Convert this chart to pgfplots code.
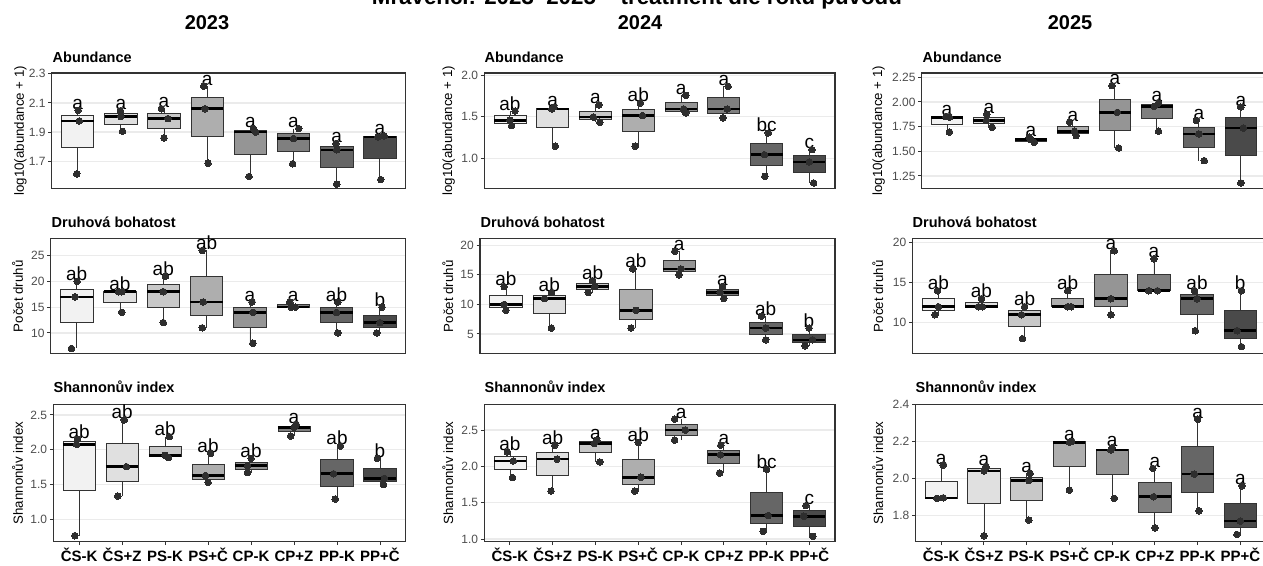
\documentclass[border=0pt]{standalone}
\usepackage{fontspec}
\setmainfont{Liberation Sans}
\usepackage{pgfplots}
\pgfplotsset{compat=1.18}
\usepgfplotslibrary{statistics}
\definecolor{f1}{HTML}{F2F2F2}
\definecolor{f2}{HTML}{E0E0E0}
\definecolor{f3}{HTML}{C8C8C8}
\definecolor{f4}{HTML}{AEAEAE}
\definecolor{f5}{HTML}{959595}
\definecolor{f6}{HTML}{7F7F7F}
\definecolor{f7}{HTML}{666666}
\definecolor{f8}{HTML}{4A4A4A}
\definecolor{gridc}{HTML}{EBEBEB}
\definecolor{tickc}{HTML}{4D4D4D}
\definecolor{brd}{HTML}{333333}
\definecolor{ptc}{HTML}{2E2E2E}
\newcommand\fs[1]{\fontsize{#1}{#1}\selectfont}
\tikzset{lab/.style={anchor=base, inner sep=0pt, font=\fs{19}, yshift=1pt},
  ptitle/.style={anchor=base west, inner sep=0pt, font=\bfseries\fs{14.5}},
  ytit/.style={rotate=90, anchor=base, inner sep=0pt, font=\fs{13.3}}}
\pgfplotsset{
  pan/.style={scale only axis, xmin=0.4, xmax=8.6, clip=false, anchor=south west,
    boxplot/draw direction=y,
    axis line style={draw=brd, line width=1.1pt},
    ymajorgrids, major grid style={draw=gridc, line width=1.3pt},
    tick align=outside, major tick length=3.5pt,
    tick style={draw=brd, line width=1pt},
    xtick pos=bottom, ytick pos=left,
    yticklabel style={font=\fs{12}, text=tickc, anchor=east, inner sep=0pt, xshift=-2.5pt},
    /pgf/number format/assume math mode=true},
  rowtop/.style={xtick=\empty},
  rowbot/.style={xtick={1,...,8}, xticklabels={ČS-K,ČS+Z,PS-K,PS+Č,CP-K,CP+Z,PP-K,PP+Č},
    xticklabel style={font=\bfseries\fs{15}, anchor=base, inner sep=0pt, yshift=-16pt}},
  dec1/.style={/pgf/number format/.cd, fixed, fixed zerofill, precision=1},
  dec2/.style={/pgf/number format/.cd, fixed, fixed zerofill, precision=2},
  bxs/.style={draw=brd, line width=0.8pt, boxplot/draw direction=y, boxplot/box extend=0.75, boxplot/whisker extend=0,
    boxplot/every median/.style={draw=black, line width=2.6pt}},
  pts/.style={only marks, mark=*, mark size=3.3pt, mark options={draw=ptc, fill=ptc, line width=0pt}}
}
\newcommand\bx[5]{%
  \pgfmathsetmacro\qa{(#2+#3)/2}%
  \pgfmathsetmacro\qb{(#3+#4)/2}%
  \edef\tmp{\noexpand\addplot[bxs,fill=#5,boxplot prepared={draw position=#1,lower whisker=#2,lower quartile=\qa,median=#3,upper quartile=\qb,upper whisker=#4}] coordinates {};}%
  \tmp}
\newcommand\lb[3]{\node[lab] at (axis cs:#1,#2) {#3};}
\begin{document}
\begin{tikzpicture}[x=1pt,y=1pt]
\useasboundingbox (0,0) rectangle (1263,565);
% ---------- titles ----------
\node[anchor=base, inner sep=0pt, font=\bfseries\fs{22.3}] at (637,560) {Mravenci: 2023–2025 – treatment dle roku původu};
\node[anchor=base, inner sep=0pt, font=\bfseries\fs{20}] at (207,535) {2023};
\node[anchor=base, inner sep=0pt, font=\bfseries\fs{20}] at (640,535) {2024};
\node[anchor=base, inner sep=0pt, font=\bfseries\fs{20}] at (1070,535) {2025};
% panel titles
\node[ptitle] at (52.5,502.3) {Abundance};
\node[ptitle] at (51.5,337.7) {Druhová bohatost};
\node[ptitle] at (53.5,172.3) {Shannonův index};
\node[ptitle] at (484.5,502.3) {Abundance};
\node[ptitle] at (480.5,337.7) {Druhová bohatost};
\node[ptitle] at (484.5,172.3) {Shannonův index};
\node[ptitle] at (922.5,502.3) {Abundance};
\node[ptitle] at (912.5,337.7) {Druhová bohatost};
\node[ptitle] at (915.5,172.3) {Shannonův index};
% y titles
\node[ytit] at (24,434.2) {log10(abundance + 1)};
\node[ytit] at (23,268.7) {Počet druhů};
\node[ytit] at (23,92) {Shannonův index};
\node[ytit] at (452,434.2) {log10(abundance + 1)};
\node[ytit] at (453,268.7) {Počet druhů};
\node[ytit] at (453,92) {Shannonův index};
\node[ytit] at (882,434.2) {log10(abundance + 1)};
\node[ytit] at (883,268.7) {Počet druhů};
\node[ytit] at (883,92) {Shannonův index};

% ================= 2023 Abundance =================
\begin{axis}[pan, rowtop, at={(51.7pt,376.4pt)}, width=354.1pt, height=115.6pt,
  ymin=1.512, ymax=2.305, ytick={1.7,1.9,2.1,2.3}, yticklabel style={dec1}]
\bx{1}{1.613}{1.976}{2.049}{f1}
\bx{2}{1.905}{2.006}{2.046}{f2}
\bx{3}{1.859}{1.992}{2.060}{f3}
\bx{4}{1.686}{2.060}{2.215}{f4}
\bx{5}{1.595}{1.900}{1.924}{f5}
\bx{6}{1.682}{1.855}{1.924}{f6}
\bx{7}{1.543}{1.778}{1.820}{f7}
\bx{8}{1.574}{1.866}{1.874}{f8}
\addplot[pts] coordinates {(0.98,1.613)(1.04,1.976)(1.01,2.049)(2.04,1.905)(2.0,2.006)(1.99,2.046)
 (3.0,1.859)(3.09,1.992)(2.94,2.060)(4.02,1.686)(3.95,2.060)(3.92,2.215)(4.97,1.595)(5.12,1.900)(5.07,1.924)
 (5.98,1.682)(6.0,1.855)(6.12,1.924)(7.0,1.543)(7.0,1.778)(6.98,1.820)(8.02,1.574)(7.96,1.866)(8.10,1.874)};
\lb{1}{2.049}{a}\lb{2}{2.046}{a}\lb{3}{2.060}{a}\lb{4}{2.215}{a}
\lb{5}{1.924}{a}\lb{6}{1.924}{a}\lb{7}{1.820}{a}\lb{8}{1.874}{a}
\end{axis}

% ================= 2024 Abundance =================
\begin{axis}[pan, rowtop, at={(484.3pt,376.4pt)}, width=350.7pt, height=115.6pt,
  ymin=0.635, ymax=2.028, ytick={1.0,1.5,2.0}, yticklabel style={dec1}]
\bx{1}{1.394}{1.458}{1.570}{f1}
\bx{2}{1.145}{1.594}{1.618}{f2}
\bx{3}{1.434}{1.498}{1.643}{f3}
\bx{4}{1.145}{1.514}{1.667}{f4}
\bx{5}{1.546}{1.594}{1.759}{f5}
\bx{6}{1.486}{1.594}{1.867}{f6}
\bx{7}{0.783}{1.044}{1.305}{f7}
\bx{8}{0.703}{0.956}{1.104}{f8}
\addplot[pts] coordinates {(1.04,1.394)(1.0,1.458)(1.12,1.570)(2.06,1.145)(1.98,1.594)(2.03,1.618)
 (3.1,1.434)(2.95,1.498)(3.08,1.643)(3.93,1.145)(4.1,1.514)(4.05,1.667)(5.11,1.546)(5.06,1.594)(5.11,1.759)
 (5.98,1.486)(6.08,1.594)(6.1,1.867)(6.96,0.783)(6.95,1.044)(7.04,1.305)(8.1,0.703)(8.0,0.956)(8.06,1.104)};
\lb{1}{1.570}{ab}\lb{2}{1.618}{a}\lb{3}{1.643}{a}\lb{4}{1.667}{ab}
\lb{5}{1.759}{a}\lb{6}{1.867}{a}\lb{7}{1.305}{bc}\lb{8}{1.104}{c}
\end{axis}

% ================= 2025 Abundance =================
\begin{axis}[pan, rowtop, at={(921.7pt,376.4pt)}, width=344.3pt, height=115.6pt,
  ymin=1.122, ymax=2.294, ytick={1.25,1.5,1.75,2.0,2.25}, yticklabel style={dec2}]
\bx{1}{1.696}{1.845}{1.851}{f1}
\bx{2}{1.743}{1.814}{1.878}{f2}
\bx{3}{1.591}{1.618}{1.645}{f3}
\bx{4}{1.659}{1.703}{1.797}{f4}
\bx{5}{1.534}{1.895}{2.166}{f5}
\bx{6}{1.703}{1.956}{1.990}{f6}
\bx{7}{1.405}{1.676}{1.814}{f7}
\bx{8}{1.179}{1.736}{1.949}{f8}
\addplot[pts] coordinates {(1.06,1.696)(1.06,1.845)(0.98,1.851)(2.08,1.743)(1.94,1.814)(1.95,1.878)
 (3.08,1.591)(3.0,1.618)(2.96,1.645)(4.08,1.659)(4.04,1.703)(3.92,1.797)(5.09,1.534)(5.06,1.895)(4.93,2.166)
 (6.04,1.703)(5.94,1.956)(6.04,1.990)(7.13,1.405)(7.0,1.676)(6.94,1.814)(8.0,1.179)(8.06,1.736)(8.0,1.949)};
\lb{1}{1.851}{a}\lb{2}{1.878}{a}\lb{3}{1.645}{a}\lb{4}{1.797}{a}
\lb{5}{2.166}{a}\lb{6}{1.990}{a}\lb{7}{1.814}{a}\lb{8}{1.949}{a}
\end{axis}

% ================= 2023 Druhova bohatost =================
\begin{axis}[pan, rowtop, at={(50.7pt,211.2pt)}, width=355.1pt, height=115pt,
  ymin=5.96, ymax=28.26, ytick={10,15,20,25}]
\bx{1}{7}{17}{20}{f1}
\bx{2}{14}{18}{18}{f2}
\bx{3}{12}{18}{21}{f3}
\bx{4}{11}{16}{26}{f4}
\bx{5}{8}{14}{16}{f5}
\bx{6}{15}{15}{16}{f6}
\bx{7}{10}{14}{16}{f7}
\bx{8}{10}{12}{15}{f8}
\addplot[pts] coordinates {(0.88,7)(0.96,17)(1.01,20)(2.04,14)(2.04,18)(1.97,18)
 (3.0,12)(3.0,18)(3.05,21)(3.9,11)(3.92,16)(3.9,26)(5.07,8)(5.07,14)(5.05,16)
 (6.05,15)(5.95,15)(5.92,16)(7.03,10)(7.0,14)(7.03,16)(7.93,10)(8.0,12)(8.05,15)};
\lb{1}{20}{ab}\lb{2}{18}{ab}\lb{3}{21}{ab}\lb{4}{26}{ab}
\lb{5}{16}{a}\lb{6}{16}{a}\lb{7}{16}{ab}\lb{8}{15}{b}
\end{axis}

% ================= 2024 Druhova bohatost =================
\begin{axis}[pan, rowtop, at={(480pt,211.2pt)}, width=355pt, height=115pt,
  ymin=1.64, ymax=21.1, ytick={5,10,15,20}]
\bx{1}{9}{10}{13}{f1}
\bx{2}{6}{11}{12}{f2}
\bx{3}{12}{13}{14}{f3}
\bx{4}{6}{9}{16}{f4}
\bx{5}{15}{16}{19}{f5}
\bx{6}{11}{12}{13}{f6}
\bx{7}{4}{6}{8}{f7}
\bx{8}{3}{4}{6}{f8}
\addplot[pts] coordinates {(1.0,9)(0.96,10)(0.96,13)(2.05,6)(1.89,11)(2.05,12)
 (2.9,12)(3.05,13)(3.0,14)(3.89,6)(4.0,9)(3.93,16)(5.0,15)(5.04,16)(4.9,19)
 (6.03,11)(5.95,12)(6.0,13)(7.0,4)(7.0,6)(6.9,8)(7.91,3)(8.08,4)(8.0,6)};
\lb{1}{13}{ab}\lb{2}{12}{ab}\lb{3}{14}{ab}\lb{4}{16}{ab}
\lb{5}{19}{a}\lb{6}{13}{a}\lb{7}{8}{ab}\lb{8}{6}{b}
\end{axis}

% ================= 2025 Druhova bohatost =================
\begin{axis}[pan, rowtop, at={(912.5pt,211.2pt)}, width=353.5pt, height=115pt,
  ymin=6.11, ymax=20.5, ytick={10,15,20}]
\bx{1}{11}{12}{14}{f1}
\bx{2}{12}{12}{13}{f2}
\bx{3}{8}{11}{12}{f3}
\bx{4}{12}{12}{14}{f4}
\bx{5}{11}{13}{19}{f5}
\bx{6}{14}{14}{18}{f6}
\bx{7}{9}{13}{14}{f7}
\bx{8}{7}{9}{14}{f8}
\addplot[pts] coordinates {(0.92,11)(1.0,12)(0.98,14)(1.93,12)(2.02,12)(2.0,13)
 (2.95,8)(2.93,11)(3.0,12)(4.08,12)(4.0,12)(4.0,14)(5.0,11)(5.0,13)(5.08,19)
 (5.88,14)(6.08,14)(6.0,18)(6.96,9)(7.0,13)(6.94,14)(8.03,7)(7.93,9)(8.03,14)};
\lb{1}{14}{ab}\lb{2}{13}{ab}\lb{3}{12}{ab}\lb{4}{14}{ab}
\lb{5}{19}{a}\lb{6}{18}{a}\lb{7}{14}{ab}\lb{8}{14}{b}
\end{axis}

% ================= 2023 Shannon =================
\begin{axis}[pan, rowbot, at={(53.3pt,23.3pt)}, width=352.5pt, height=137.4pt,
  ymin=0.679, ymax=2.653, ytick={1.0,1.5,2.0,2.5}, yticklabel style={dec1}]
\bx{1}{0.765}{2.078}{2.154}{f1}
\bx{2}{1.335}{1.757}{2.428}{f2}
\bx{3}{1.891}{1.920}{2.188}{f3}
\bx{4}{1.532}{1.630}{1.949}{f4}
\bx{5}{1.671}{1.771}{1.877}{f5}
\bx{6}{2.198}{2.322}{2.362}{f6}
\bx{7}{1.292}{1.655}{2.054}{f7}
\bx{8}{1.503}{1.589}{1.877}{f8}
\addplot[pts] coordinates {(0.9,0.765)(0.94,2.078)(0.96,2.154)(1.9,1.335)(2.1,1.757)(2.05,2.428)
 (3.08,1.891)(3.0,1.920)(3.1,2.188)(4.0,1.532)(3.94,1.630)(4.06,1.949)(4.92,1.671)(4.92,1.771)(5.0,1.877)
 (5.92,2.198)(6.0,2.322)(6.05,2.362)(6.96,1.292)(6.92,1.655)(7.08,2.054)(8.08,1.503)(8.1,1.589)(7.94,1.877)};
\lb{1}{2.154}{ab}\lb{2}{2.428}{ab}\lb{3}{2.188}{ab}\lb{4}{1.949}{ab}
\lb{5}{1.877}{ab}\lb{6}{2.362}{a}\lb{7}{2.054}{ab}\lb{8}{1.877}{b}
\end{axis}

% ================= 2024 Shannon =================
\begin{axis}[pan, rowbot, at={(484.3pt,23.3pt)}, width=350.7pt, height=137.4pt,
  ymin=0.963, ymax=2.855, ytick={1.0,1.5,2.0,2.5}, yticklabel style={dec1}]
\bx{1}{1.845}{2.075}{2.200}{f1}
\bx{2}{1.660}{2.100}{2.292}{f2}
\bx{3}{2.061}{2.315}{2.361}{f3}
\bx{4}{1.660}{1.850}{2.329}{f4}
\bx{5}{2.361}{2.500}{2.652}{f5}
\bx{6}{1.909}{2.160}{2.292}{f6}
\bx{7}{1.106}{1.323}{1.960}{f7}
\bx{8}{1.037}{1.314}{1.461}{f8}
\addplot[pts] coordinates {(1.06,1.845)(1.08,2.075)(0.94,2.200)(1.96,1.660)(2.1,2.100)(2.05,2.292)
 (3.1,2.061)(2.97,2.315)(3.03,2.361)(3.92,1.660)(4.06,1.850)(4.0,2.329)(4.85,2.361)(5.1,2.500)(4.85,2.652)
 (5.9,1.909)(5.92,2.160)(5.93,2.292)(6.92,1.106)(7.04,1.323)(7.0,1.960)(8.08,1.037)(7.87,1.314)(7.92,1.461)};
\lb{1}{2.200}{ab}\lb{2}{2.292}{ab}\lb{3}{2.361}{a}\lb{4}{2.329}{ab}
\lb{5}{2.652}{a}\lb{6}{2.292}{a}\lb{7}{1.960}{bc}\lb{8}{1.461}{c}
\end{axis}

% ================= 2025 Shannon =================
\begin{axis}[pan, rowbot, at={(915.5pt,23.3pt)}, width=350.5pt, height=137.4pt,
  ymin=1.658, ymax=2.40, ytick={1.8,2.0,2.2,2.4}, yticklabel style={dec1}]
\bx{1}{1.892}{1.895}{2.072}{f1}
\bx{2}{1.690}{2.040}{2.063}{f2}
\bx{3}{1.775}{1.988}{2.027}{f3}
\bx{4}{1.937}{2.195}{2.200}{f4}
\bx{5}{1.892}{2.153}{2.165}{f5}
\bx{6}{1.733}{1.901}{2.054}{f6}
\bx{7}{1.825}{2.023}{2.319}{f7}
\bx{8}{1.697}{1.769}{1.960}{f8}
\addplot[pts] coordinates {(0.9,1.892)(1.05,1.895)(1.05,2.072)(2.0,1.690)(2.0,2.040)(2.05,2.063)
 (3.05,1.775)(3.05,1.988)(3.08,2.027)(4.0,1.937)(4.0,2.195)(4.05,2.200)(5.05,1.892)(4.97,2.153)(5.0,2.165)
 (6.0,1.733)(5.97,1.901)(5.95,2.054)(7.03,1.825)(6.92,2.023)(7.0,2.319)(7.92,1.697)(8.0,1.769)(8.04,1.960)};
\lb{1}{2.072}{a}\lb{2}{2.063}{a}\lb{3}{2.027}{a}\lb{4}{2.200}{a}
\lb{5}{2.165}{a}\lb{6}{2.054}{a}\lb{7}{2.319}{a}\lb{8}{1.960}{a}
\end{axis}
\end{tikzpicture}
\end{document}
